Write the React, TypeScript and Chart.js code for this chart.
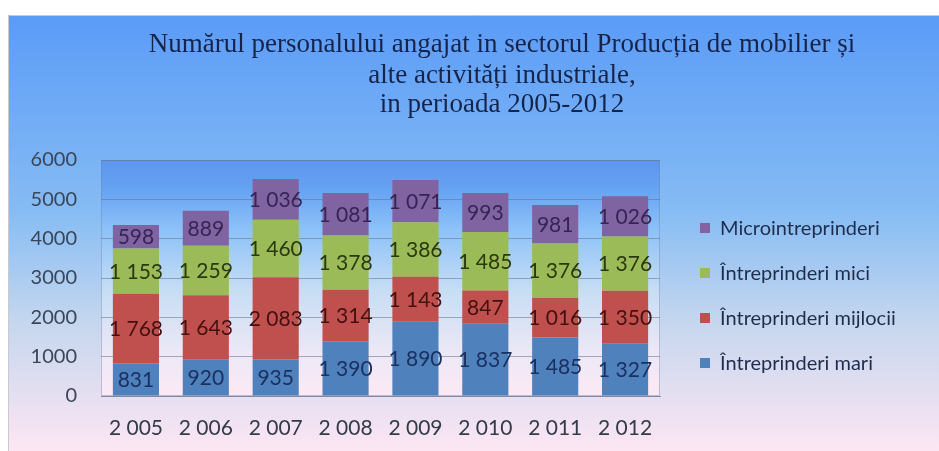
import { useEffect, useRef } from "react";
import { Chart, registerables } from "chart.js";

Chart.register(...registerables);

const years = [2005, 2006, 2007, 2008, 2009, 2010, 2011, 2012];
const seriesNames = [
  "Întreprinderi mari",
  "Întreprinderi mijlocii",
  "Întreprinderi mici",
  "Microintreprinderi",
];
const mari = [831, 920, 935, 1390, 1890, 1837, 1485, 1327];
const mijlocii = [1768, 1643, 2083, 1314, 1143, 847, 1016, 1350];
const mici = [1153, 1259, 1460, 1378, 1386, 1485, 1376, 1376];
const micro = [598, 889, 1036, 1081, 1071, 993, 981, 1026];
const titleLines = [
  "Numărul personalului angajat in sectorul Producția de mobilier și",
  "alte activități industriale,",
  "in perioada 2005-2012",
];
const yTicks = [0, 1000, 2000, 3000, 4000, 5000, 6000];

const barColors = ["#4f81bd", "#c0504d", "#9bbb59", "#8064a2"];
const labelColors = ["#1a3060", "#431010", "#2a380c", "#352454"];

const fmt = (v: number) =>
  v >= 1000 ? `${Math.floor(v / 1000)} ${String(v % 1000).padStart(3, "0")}` : String(v);

const W = 939;
const H = 451;

const decorPlugin = {
  id: "decor",
  beforeDraw(chart: any) {
    const { ctx, chartArea } = chart;
    ctx.save();
    ctx.fillStyle = "#ffffff";
    ctx.fillRect(0, 0, W, H);
    const g = ctx.createLinearGradient(0, 15, 0, H);
    g.addColorStop(0, "#5a9bf7");
    g.addColorStop(0.45, "#86bcf4");
    g.addColorStop(0.7, "#c4d6ee");
    g.addColorStop(1, "#fde6f3");
    ctx.fillStyle = g;
    ctx.fillRect(8, 15, W - 8, H - 15);
    ctx.strokeStyle = "#c9c9cf";
    ctx.lineWidth = 1;
    ctx.beginPath();
    ctx.moveTo(8.5, H);
    ctx.lineTo(8.5, 15.5);
    ctx.lineTo(W, 15.5);
    ctx.stroke();

    const { left, right, top, bottom } = chartArea;
    const pg = ctx.createLinearGradient(0, top, 0, bottom);
    pg.addColorStop(0, "#5c96ee");
    pg.addColorStop(0.12, "#66a2f2");
    pg.addColorStop(0.3, "#8ec2f8");
    pg.addColorStop(0.55, "#c6ddf4");
    pg.addColorStop(0.82, "#ede8f6");
    pg.addColorStop(1, "#fce9f5");
    ctx.fillStyle = pg;
    ctx.fillRect(left, top, right - left, bottom - top);
    ctx.strokeStyle = "rgba(110,135,175,0.45)";
    ctx.strokeRect(left + 0.5, top + 0.5, right - left - 1, bottom - top - 1);

    // title
    ctx.fillStyle = "#16244a";
    ctx.font = "27px 'Liberation Serif'";
    ctx.textAlign = "center";
    ctx.textBaseline = "middle";
    const ys = [45, 76, 105];
    titleLines.forEach((t, i) => ctx.fillText(t, 502, ys[i]));

    // legend (reversed order)
    ctx.font = "20px Lato";
    ctx.textAlign = "left";
    const ds = chart.data.datasets;
    for (let i = 0; i < ds.length; i++) {
      const d = ds[ds.length - 1 - i];
      const y = 228 + i * 45;
      ctx.fillStyle = d.backgroundColor;
      ctx.fillRect(700, y - 5, 10, 10);
      ctx.fillStyle = "#1f2d4d";
      ctx.fillText(d.label, 720, y + 1);
    }
    ctx.restore();
  },
  afterDatasetsDraw(chart: any) {
    const { ctx } = chart;
    ctx.save();
    ctx.font = "21px Lato";
    ctx.textAlign = "center";
    ctx.textBaseline = "middle";
    chart.data.datasets.forEach((d: any, di: number) => {
      const meta = chart.getDatasetMeta(di);
      meta.data.forEach((el: any, i: number) => {
        const { x, y, base } = el.getProps(["x", "y", "base"], true);
        ctx.fillStyle = labelColors[di];
        ctx.fillText(fmt(d.data[i]), x, (y + base) / 2 + 1);
      });
    });
    ctx.restore();
  },
};

export default function App() {
  const ref = useRef<HTMLCanvasElement | null>(null);
  useEffect(() => {
    if (!ref.current) return;
    const chart = new Chart(ref.current, {
      type: "bar",
      data: {
        labels: years.map((y) => fmt(y)),
        datasets: [mari, mijlocii, mici, micro].map((data, i) => ({
          label: seriesNames[i],
          data,
          backgroundColor: barColors[i],
          borderWidth: 0,
          barPercentage: 0.66,
          categoryPercentage: 1,
        })),
      },
      options: {
        animation: false,
        responsive: false,
        devicePixelRatio: 1,
        layout: { padding: { top: 160, right: 279, left: 0, bottom: 0 } },
        plugins: {
          legend: { display: false },
          title: { display: false },
          tooltip: { enabled: false },
        },
        scales: {
          x: {
            stacked: true,
            grid: { display: false },
            border: { display: true, color: "rgba(120,130,150,0.8)" },
            ticks: {
              color: "#333a48",
              font: { family: "Lato", size: 21 },
              padding: 12,
            },
            afterFit: (s: any) => {
              s.height = 55;
            },
          },
          y: {
            stacked: true,
            min: 0,
            max: 6000,
            afterBuildTicks: (s: any) => {
              s.ticks = yTicks.map((v) => ({ value: v }));
            },
            grid: {
              color: "rgba(100,115,140,0.55)",
              drawTicks: false,
            },
            border: { display: false },
            ticks: {
              color: "#3a4558",
              font: { family: "Lato", size: 20 },
              padding: 24,
              callback: (v: any) => String(v),
            },
            afterFit: (s: any) => {
              s.width = 101;
            },
          },
        },
      },
      plugins: [decorPlugin],
    });
    return () => chart.destroy();
  }, []);
  return (
    <div style={{ position: "fixed", left: 0, top: 0, width: W, height: H }}>
      <canvas ref={ref} width={W} height={H} style={{ width: W, height: H, display: "block" }} />
    </div>
  );
}
